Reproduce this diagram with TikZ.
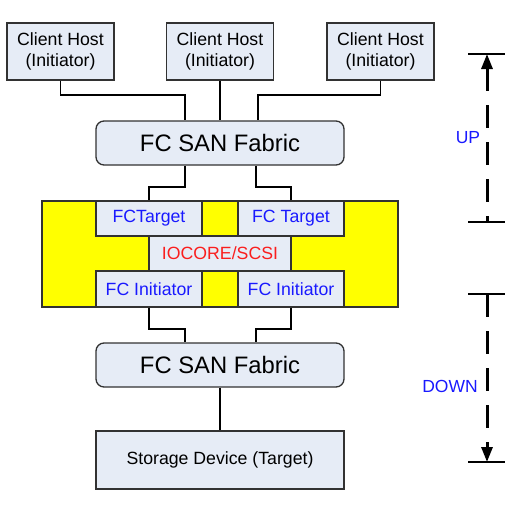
\documentclass[tikz,border=0pt]{standalone}
\usepackage{fontspec}
\setmainfont{Liberation Sans}
\usetikzlibrary{arrows.meta}
\definecolor{boxfill}{RGB}{230,236,246}
\definecolor{boxline}{RGB}{50,50,50}
\definecolor{lblue}{RGB}{25,25,255}
\definecolor{lred}{RGB}{250,30,30}
\definecolor{ylw}{RGB}{255,255,0}
\begin{document}
\begin{tikzpicture}[x=1pt,y=-1pt,
  box/.style={draw=boxline, line width=1.3pt, fill=boxfill, inner sep=0pt, align=center,
              font=\fontsize{17.7}{21.5}\selectfont},
  host/.style={box, minimum width=107pt, minimum height=57pt},
  fabric/.style={box, rounded corners=8pt, minimum width=248pt, minimum height=44pt,
              font=\fontsize{23.8}{28}\selectfont},
  port/.style={box, minimum width=106pt, minimum height=35pt, text=lblue},
  wire/.style={draw=black, line width=1.8pt},
  dimline/.style={line width=3pt, dash pattern=on 23pt off 14pt,
              >={Triangle[length=15pt,width=11pt]}},
  tickline/.style={line width=2pt},
  dimlabel/.style={text=lblue, font=\fontsize{17.5}{21}\selectfont, inner sep=0pt}]
\useasboundingbox (0,0) rectangle (512,506);

% hosts
\node[host] (h1) at (60.5,51.5) {Client Host\\(Initiator)};
\node[host] (h2) at (220,51.5) {Client Host\\(Initiator)};
\node[host] (h3) at (380.5,51.5) {Client Host\\(Initiator)};

% upper fabric
\node[fabric] (f1) at (220,143) {FC SAN Fabric};

% yellow IO core block
\node[draw=boxline, line width=1.3pt, fill=ylw, minimum width=356pt, minimum height=106pt, inner sep=0pt] (core) at (220,254) {};
\node[port] (ta) at (149,218.5) {FCTarget};
\node[port] (tb) at (291,218.5) {FC Target};
\node[box, minimum width=142pt, minimum height=35pt, text=lred] (io) at (220,253.5) {IOCORE/SCSI};
\node[port, minimum height=36pt] (ia) at (149,289) {FC Initiator};
\node[port, minimum height=36pt] (ib) at (291,289) {FC Initiator};

% lower fabric and storage
\node[fabric] (f2) at (220,365) {FC SAN Fabric};
\node[box, minimum width=248pt, minimum height=58pt] (st) at (220,460) {Storage Device (Target)};

% wires
\draw[wire] (h1.south) -- ++(0,14) -| ([xshift=-35pt]f1.north);
\draw[wire] (h2.south) -- (f1.north);
\draw[wire] (h3.south) -- ++(0,14) -| ([xshift=38pt]f1.north);
\draw[wire] ([xshift=-35pt]f1.south) -- ++(0,21) -| (ta.north);
\draw[wire] ([xshift=36pt]f1.south) -- ++(0,21) -| (tb.north);
\draw[wire] (ia.south) -- ++(0,21) -| ([xshift=-35pt]f2.north);
\draw[wire] (ib.south) -- ++(0,21) -| ([xshift=36pt]f2.north);
\draw[wire] (f2.south) -- (st.north);

% UP dimension
\coordinate (ut1) at (468,54);
\coordinate (ut2) at (505,54);
\coordinate (ub1) at (468,222);
\coordinate (ub2) at (505,222);
\coordinate (utop) at (487,54);
\coordinate (ubot) at (487,222);
\draw[tickline] (ut1) -- (ut2);
\draw[tickline] (ub1) -- (ub2);
\draw[dimline, <-] (utop) -- (ubot);
\node[dimlabel] (up) at (468,138) {UP};

% DOWN dimension
\coordinate (dt1) at (468,294);
\coordinate (dt2) at (505,294);
\coordinate (db1) at (468,462);
\coordinate (db2) at (505,462);
\coordinate (dtop) at (487,294);
\coordinate (dbot) at (487,462);
\draw[tickline] (dt1) -- (dt2);
\draw[tickline] (db1) -- (db2);
\draw[dimline, ->] (dtop) -- (dbot);
\node[dimlabel] (down) at (450,386) {DOWN};
\end{tikzpicture}
\end{document}
